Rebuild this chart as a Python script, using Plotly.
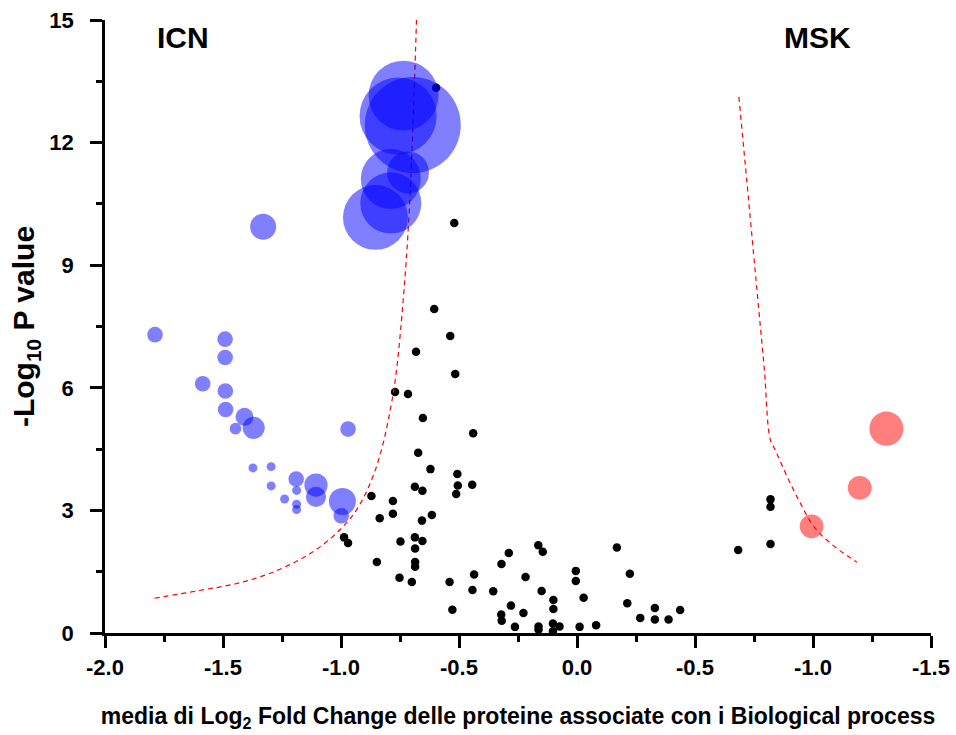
import plotly.graph_objects as go

# ---- data ----
black_x = [-0.597,-0.520,-0.605,-0.537,-0.682,-0.516,-0.771,-0.716,-0.653,-0.440,
           -0.673,-0.621,-0.507,-0.505,-0.444,-0.512,-0.687,-0.655,-0.871,-0.780,
           -0.780,-0.836,-0.615,-0.657,-0.987,-0.970,-0.748,-0.687,-0.655,-0.686,
           -0.686,-0.686,-0.848,-0.752,-0.700,-0.540,-0.436,-0.443,-0.355,-0.528,
           -0.320,-0.289,-0.321,-0.319,-0.280,-0.263,-0.227,-0.218,-0.164,-0.145,
           -0.150,-0.100,-0.100,-0.102,-0.074,-0.163,-0.163,-0.102,-0.005,-0.005,
           0.028,0.011,0.081,0.169,0.224,0.213,0.268,0.330,0.330,0.388,
           0.437,0.683,0.820,0.820,0.820]
black_y = [13.34,10.03,7.93,7.27,6.88,6.34,5.90,5.85,5.26,4.89,
           4.41,4.01,3.89,3.61,3.63,3.40,3.58,3.48,3.35,3.23,
           2.92,2.81,2.89,2.75,2.34,2.20,2.24,2.34,2.25,2.07,
           1.74,1.62,1.74,1.35,1.25,1.25,1.43,1.05,1.02,0.57,
           1.69,1.96,0.45,0.30,0.67,0.15,0.49,1.37,2.15,1.99,
           1.03,0.81,0.59,0.23,0.16,0.16,0.08,0.04,1.52,1.27,
           0.86,0.15,0.19,2.09,1.45,0.73,0.37,0.61,0.33,0.33,
           0.56,2.03,3.27,3.09,2.18]

icn_x = [-1.788,-1.491,-1.491,-1.586,-1.490,-1.489,-1.409,-1.370,-1.447,-0.970,
         -1.373,-1.296,-1.296,-1.190,-1.188,-1.239,-1.188,-1.188,-1.106,-1.106,
         -0.994,-0.999,-1.330,-0.735,-0.758,-0.696,-0.789,-0.716,-0.789,-0.854]
icn_y = [7.30,7.19,6.74,6.10,5.92,5.47,5.29,5.02,5.00,4.99,
         4.04,4.07,3.60,3.77,3.49,3.28,3.15,3.02,3.62,3.33,
         3.22,2.87,9.94,13.15,12.65,12.43,11.11,11.27,10.52,10.17]
icn_n = [9,9,9,9,9,9,12,18,5,9,
         3,3,3,9,3,3,3,3,20,15,
         27,9,25,181,220,341,133,65,138,156]

msk_x = [1.311, 1.198, 0.994]
msk_y = [5.00, 3.55, 2.61]
msk_n = [43, 21, 21]

thr_left_x = [-1.79,-1.60,-1.45,-1.32,-1.20,-1.10,-1.00,-0.93,-0.87,-0.83,-0.80,-0.77,-0.74,-0.71,-0.68]
thr_left_y = [0.85,1.04,1.20,1.42,1.72,2.06,2.55,3.05,3.75,4.45,5.20,6.20,7.90,10.40,15.00]
thr_right_x = [0.686,0.727,0.769,0.794,0.819,0.840,0.890,0.946,1.003,1.073,1.186]
thr_right_y = [13.12,10.60,7.99,6.44,4.73,4.48,3.83,3.18,2.61,2.20,1.73]

x_tickvals = [-2.0,-1.5,-1.0,-0.5,0.0,0.5,1.0,1.5]
x_ticktext = ["-2.0","-1.5","-1.0","-0.5","0.0","-0.5","-1.0","-1.5"]
y_tickvals = [0,3,6,9,12,15]

FONT = "Liberation Sans, Arial, sans-serif"
SIZEREF = 0.074

fig = go.Figure()
fig.add_trace(go.Scatter(x=black_x, y=black_y, mode="markers",
                         marker=dict(color="black", size=8.5, opacity=1, line=dict(width=0)),
                         name="proteine", showlegend=False))
for xs, ys in [(thr_left_x, thr_left_y), (thr_right_x, thr_right_y)]:
    fig.add_trace(go.Scatter(x=xs, y=ys, mode="lines", line_shape="spline",
                             line=dict(color="red", width=1.2, dash="5px,4px"),
                             showlegend=False, hoverinfo="skip"))
fig.add_trace(go.Scatter(x=icn_x, y=icn_y, mode="markers",
                         marker=dict(color="rgba(0,0,255,0.5)", size=icn_n, opacity=1,
                                     sizemode="area", sizeref=SIZEREF,
                                     line=dict(width=0)),
                         name="ICN", showlegend=False))
fig.add_trace(go.Scatter(x=msk_x, y=msk_y, mode="markers",
                         marker=dict(color="rgba(255,0,0,0.5)", size=msk_n, opacity=1,
                                     sizemode="area", sizeref=SIZEREF,
                                     line=dict(width=0)),
                         name="MSK", showlegend=False))

fig.add_annotation(x=-1.67, y=14.57, text="ICN", showarrow=False,
                   font=dict(family=FONT, size=30, color="black", weight="bold"))
fig.add_annotation(x=1.02, y=14.57, text="MSK", showarrow=False,
                   font=dict(family=FONT, size=30, color="black", weight="bold"))

axis_common = dict(showline=True, linecolor="black", linewidth=2.5,
                   ticks="outside", ticklen=12, tickwidth=2.5, tickcolor="black",
                   showgrid=False, zeroline=False,
                   tickfont=dict(family=FONT, size=22, color="black", weight="bold"))

fig.update_xaxes(range=[-2.0, 1.5], tickvals=x_tickvals, ticktext=x_ticktext,
                 minor=dict(dtick=0.25, tick0=0, ticks="outside", ticklen=6,
                            tickwidth=2.5, tickcolor="black", showgrid=False),
                 ticklabelstandoff=1,
                 title=dict(text="media di Log<sub>2</sub> Fold Change delle proteine associate con i Biological process",
                            font=dict(family=FONT, size=23, color="black", weight="bold"),
                            standoff=29),
                 **axis_common)
fig.update_yaxes(range=[0, 15], tickvals=y_tickvals,
                 minor=dict(dtick=1.5, tick0=0, ticks="outside", ticklen=6,
                            tickwidth=2.5, tickcolor="black", showgrid=False),
                 ticklabelstandoff=12,
                 title=dict(text="-Log<sub>10</sub> P value",
                            font=dict(family=FONT, size=30, color="black", weight="bold"),
                            standoff=6),
                 **axis_common)

fig.update_layout(width=956, height=735,
                  margin=dict(l=105, r=25, t=20, b=102, autoexpand=False),
                  plot_bgcolor="white", paper_bgcolor="white",
                  showlegend=False)

fig.write_html("out.html")
